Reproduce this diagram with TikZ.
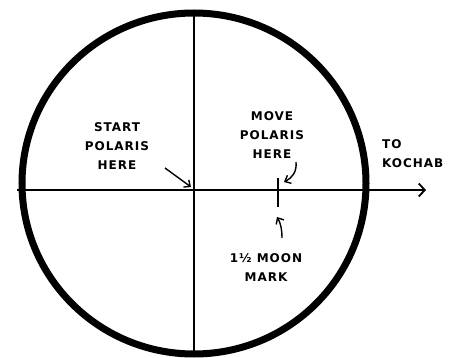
\documentclass[tikz,border=0pt]{standalone}
\usepackage{fontspec}
\setmainfont{DejaVu Sans}[LetterSpace=8]
\usetikzlibrary{arrows.meta}
\tikzset{
  hand/.style={font=\fontsize{12}{19}\selectfont\bfseries, align=center, inner sep=0pt},
  axis/.style={line width=1.8pt},
  pointer/.style={line width=1.4pt, -{Straight Barb[length=5pt,width=9pt,line width=1.4pt]}},
}
\begin{document}
\begin{tikzpicture}[x=1pt,y=-1pt]
\useasboundingbox (0,0) rectangle (463,358);
\fill[white] (0,0) rectangle (463,358);
% outer circle
\coordinate (C) at (194,183.5);
\draw[line width=7pt] (C) ellipse [x radius=172pt, y radius=170.5pt];
% axes
\coordinate (L) at (17,190);
\coordinate (R) at (426,190);
\coordinate (T) at (194,12);
\coordinate (B) at (194,352);
\draw[axis, -{Straight Barb[length=6pt,width=13pt,line width=1.8pt]}] (L) -- (R);
\draw[line width=2.2pt] (T) -- (B);
% moon mark
\coordinate (mt) at (278,178);
\coordinate (mb) at (278,207);
\draw[line width=2.6pt] (mt) -- (mb);
% labels
\node[hand] (start) at (117,146) {START\\POLARIS\\HERE};
\node[hand] (move) at (272,135) {MOVE\\POLARIS\\HERE};
\node[hand, align=left, anchor=west] (kochab) at (382,154) {TO\\KOCHAB};
\node[hand] (moon) at (266,268) {1½ MOON\\MARK};
% pointers
\coordinate (s1) at (165,168);
\coordinate (s2) at (191,187);
\draw[pointer] (s1) -- (s2);
\coordinate (m1) at (296,162);
\coordinate (m2) at (284,182);
\draw[pointer] (m1) .. controls (297,172) and (292,178) .. (m2);
\coordinate (o1) at (282,238);
\coordinate (o2) at (277,217);
\draw[pointer] (o1) .. controls (282,228) and (280,222) .. (o2);
\end{tikzpicture}
\end{document}
